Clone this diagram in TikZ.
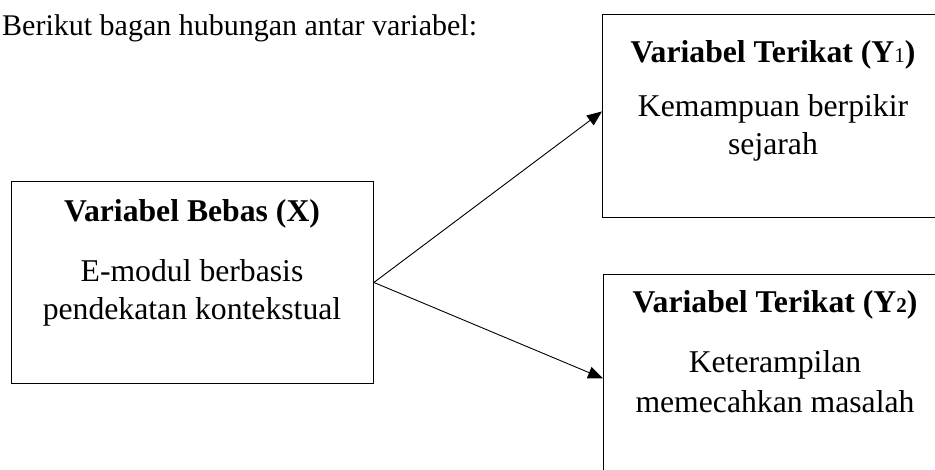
\documentclass[tikz,border=0pt]{standalone}
\usepackage{fontspec}
\setmainfont{Liberation Serif}
\usetikzlibrary{arrows.meta}
\begin{document}
\begin{tikzpicture}[x=1pt,y=-1pt,
  box/.style={draw,line width=0.9pt,inner sep=0pt,anchor=north west},
  txt/.style={anchor=base,inner sep=0pt,font=\fontsize{31.7}{38}\selectfont},
  ttl/.style={anchor=base,inner sep=0pt,font=\fontsize{31.7}{38}\selectfont\bfseries},
  conn/.style={line width=0.9pt,-{Triangle[length=15pt,width=12pt]}}]
\useasboundingbox (0,0) rectangle (935,470);
\node[anchor=base west,inner sep=0pt,font=\fontsize{30}{36}\selectfont] (head) at (2,36) {Berikut bagan hubungan antar variabel:};
% boxes
\node[box,minimum width=362pt,minimum height=202pt] (bx) at (11,181) {};
\node[box,minimum width=343pt,minimum height=203pt] (by1) at (602,14) {};
\node[box,minimum width=343pt,minimum height=208pt] (by2) at (603,274) {};
% texts X
\node[ttl] (tx) at (192,222) {Variabel Bebas (X)};
\node[txt] (tx1) at (192,282) {E-modul berbasis};
\node[txt] (tx2) at (192,320) {pendekatan kontekstual};
% texts Y1
\node[ttl] (ty1) at (773,63) {Variabel Terikat (Y{\fontsize{21}{21}\selectfont\mdseries 1})};
\node[txt] (ty1a) at (773,117) {Kemampuan berpikir};
\node[txt] (ty1b) at (773,155) {sejarah};
% texts Y2
\node[ttl] (ty2) at (775,313) {Variabel Terikat (Y{\fontsize{21}{21}\selectfont 2})};
\node[txt] (ty2a) at (775,373) {Keterampilan};
\node[txt] (ty2b) at (775,413) {memecahkan masalah};
% connectors
\draw[conn] (bx.east) -- ([yshift=4.5pt]by1.west);
\draw[conn] (bx.east) -- (by2.west);
\end{tikzpicture}
\end{document}
